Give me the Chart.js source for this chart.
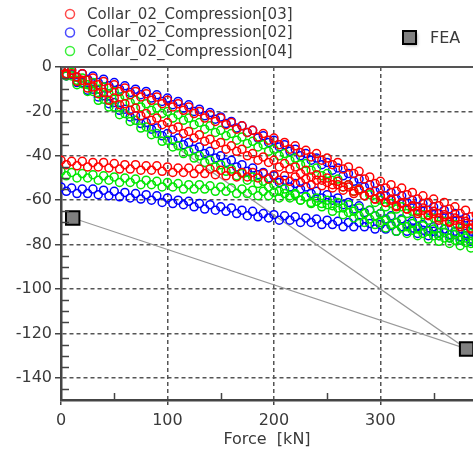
<!DOCTYPE html>
<html>
<head>
<meta charset="utf-8">
<script src="https://cdn.jsdelivr.net/npm/chart.js@4"></script>
<style>
    html, body { margin: 0; padding: 0; background: #fff; overflow: hidden; }
    canvas { display: block; }
</style>
</head>
<body>
<canvas id="myChart" width="473" height="452"></canvas>
<script>
// force grids [kN]: first pass of each curve, and the repeat pass in between
const forces = [0, 10, 20, 30, 40, 50, 60, 70, 80, 90,
    100, 110, 120, 130, 140, 150, 160, 170, 180, 190,
    200, 210, 220, 230, 240, 250, 260, 270, 280, 290,
    300, 310, 320, 330, 340, 350, 360, 370, 380, 390];
const forcesRepeat = [5, 15, 25, 35, 45, 55, 65, 75, 85, 95,
    105, 115, 125, 135, 145, 155, 165, 175, 185, 195,
    205, 215, 225, 235, 245, 255, 265, 275, 285, 295,
    305, 315, 325, 335, 345, 355, 365, 375, 385];

// Collar_02_Compression[03] (red)
const redLoad1 = [0, -1.5, -3, -5, -6.5, -8, -9.5, -11, -12, -13.5,
    -15, -16.5, -18, -20, -21.5, -23, -25, -26.5, -28.5, -30,
    -32, -34, -35.5, -37.5, -39, -41, -43, -45, -47, -49.5,
    -51.5, -53, -54.5, -56.5, -58, -59.5, -61, -63, -64.5, -66.5];
const redLoad1b = [-3, -4.5, -6, -8, -9.5, -11, -12.5, -13.5, -15, -16.5,
    -18, -19.5, -21, -23, -24.5, -26, -28, -29.5, -31.5, -33,
    -35, -37, -38.5, -40.5, -42, -44, -46, -48, -50.5, -52.5,
    -54.5, -56, -57.5, -59.5, -61, -62.5, -64, -66, -67.5];
const redLoad2 = [0, -3, -6, -9, -11.5, -14, -16.5, -18.5, -21, -23,
    -25, -27, -29, -30.5, -32.5, -34, -35.5, -37, -39, -40.5,
    -42, -43.5, -45, -46.5, -48.5, -50, -51.5, -53, -55, -56.5,
    -58.5, -60, -61.5, -63, -64.5, -66, -67.5, -69, -70.5, -72];
const redLoad2b = [-3.5, -6.5, -9.5, -12, -15, -17, -19.5, -22, -24, -26,
    -28, -30, -32, -33.5, -35, -37, -38, -40, -42, -43,
    -45, -46, -48, -49.5, -51, -53, -54, -56, -58, -59.5,
    -61, -63, -64, -66, -67, -69, -70, -72, -73];
const redUnload = [-42, -42.5, -42.5, -43, -43, -43.5, -44, -44, -44.5, -44.5,
    -45, -45.5, -45.5, -46, -46, -46.5, -47, -47.5, -47.5, -48,
    -48.5, -49, -49.5, -50.5, -51, -52, -53, -54, -55.5, -56.5,
    -58, -59.5, -61, -62.5, -63.5, -65, -66.5, -68, -69.5, -71];
const redUnloadb = [-44, -44.5, -45, -45, -45.5, -46, -46, -46.5, -46.5, -47,
    -47.5, -47.5, -48, -48, -48.5, -49, -49.5, -49.5, -50, -50.5,
    -51, -51.5, -52, -53, -53.5, -54.5, -55.5, -57, -58, -59.5,
    -61, -62.5, -64, -65, -66.5, -68, -69.5, -71, -72.5];

// Collar_02_Compression[02] (blue)
const blueLoad1 = [0, -1.5, -3, -4, -5.5, -7, -8.5, -10, -11, -12.5,
    -14, -15.5, -17, -19, -20.5, -22.5, -24.5, -26.5, -28.5, -31,
    -33, -35, -37, -39, -41, -43, -45.5, -48, -50.5, -53,
    -55, -56.5, -58, -60, -61.5, -63, -64.5, -66, -68, -69.5];
const blueLoad1b = [-3, -4.5, -5.5, -7, -8.5, -10, -11.5, -12.5, -14, -15.5,
    -17, -18.5, -20, -22, -23.5, -25.5, -27.5, -29.5, -32, -34,
    -36, -38, -40, -42, -44, -46.5, -49, -51.5, -54, -56,
    -58, -59.5, -61, -63, -64.5, -66, -67.5, -69, -71];
const blueLoad2 = [0, -3.5, -7, -10, -13, -16, -19, -22, -25, -27.5,
    -30, -32, -34, -36, -38, -40, -42, -44, -45.5, -47.5,
    -49, -51, -52.5, -54, -56, -57.5, -59, -61, -62.5, -64.5,
    -66, -67, -68.5, -69.5, -71, -72, -73, -74, -75, -76];
const blueLoad2b = [-4, -7, -10.5, -13.5, -16.5, -19.5, -22.5, -25.5, -28, -31,
    -33, -35, -37, -39, -41, -43, -45, -47, -48.5, -50,
    -52, -54, -55, -57, -59, -60, -62, -64, -65.5, -67,
    -68.5, -70, -71, -72, -73.5, -74.5, -75.5, -76.5, -77.5];
const blueUnload = [-54, -54.5, -55, -55, -55.5, -56, -56.5, -57, -57.5, -58,
    -59, -60, -60.5, -61.5, -62, -63, -63.5, -64.5, -65, -66,
    -66.5, -67, -67.5, -68, -68.5, -69, -69.5, -70, -70, -70.5,
    -71, -71.5, -72, -72.5, -73.5, -74, -74.5, -75.5, -76, -77];
const blueUnloadb = [-56, -57, -57, -57.5, -58, -58.5, -59, -59.5, -60, -61,
    -61.5, -62, -63, -64, -64.5, -65, -66, -67, -67.5, -68,
    -69, -69, -70, -70, -71, -71, -72, -72, -72, -73,
    -73, -74, -74, -75, -76, -76, -77, -78, -78.5];

// Collar_02_Compression[04] (green)
const greenLoad1 = [0, -2.5, -5, -7, -9, -11, -13, -15, -16.5, -18.5,
    -20, -21.5, -23, -25, -26.5, -28.5, -30, -31.5, -33.5, -35,
    -37, -39, -41, -43.5, -45.5, -48, -50.5, -53, -55, -57.5,
    -60, -61.5, -63, -65, -66.5, -68, -69.5, -71, -72.5, -74];
const greenLoad1b = [-3, -6, -8, -10, -12, -14, -16, -18, -19.5, -21,
    -23, -24, -26, -28, -29.5, -31, -33, -34.5, -36, -38,
    -40, -42, -44, -46.5, -49, -51, -54, -56, -58, -61,
    -63, -64, -66, -68, -69, -71, -72, -74, -75];
const greenLoad2 = [0, -4, -7.5, -11, -14.5, -18, -21, -24, -27, -30,
    -33, -35.5, -38, -40, -42, -44, -46, -48, -49.5, -51.5,
    -53, -55, -57, -58.5, -60.5, -62, -63.5, -65.5, -67, -68.5,
    -70, -71, -72.5, -73.5, -75, -76, -77, -78, -79, -80];
const greenLoad2b = [-4, -8, -11, -15, -18, -21.5, -24.5, -27.5, -30.5, -33.5,
    -36, -39, -41, -43, -45, -47, -49, -51, -52.5, -54,
    -56, -58, -60, -61.5, -63, -65, -66.5, -68, -70, -71,
    -72.5, -74, -75, -76, -77.5, -78.5, -79.5, -80.5, -81.5];
const greenUnload = [-47, -47.5, -48, -48.5, -49, -49.5, -50, -50.5, -51, -51.5,
    -52, -52.5, -53, -53, -53.5, -54, -54.5, -55, -55.5, -56,
    -56.5, -57, -57.5, -58.5, -59, -60, -61, -62, -63.5, -64.5,
    -66, -67.5, -69, -70.5, -71.5, -73, -74.5, -75.5, -77, -78];
const greenUnloadb = [-49, -50, -50, -51, -51, -52, -52, -53, -53, -54,
    -54, -55, -55, -55, -56, -56, -57, -57, -58, -58,
    -59, -59, -60, -61, -61.5, -62.5, -63.5, -65, -66, -67,
    -69, -70, -72, -73, -74, -76, -77, -78, -79.5];

// FEA result
const feaForce = [0, 381, 11];
const feaValue = [0, -127, -68];

const xTicks = [0, 100, 200, 300];
const yTicks = [0, -20, -40, -60, -80, -100, -120, -140];

const seriesNames = ["Collar_02_Compression[03]", "Collar_02_Compression[02]", "Collar_02_Compression[04]"];
const seriesColors = ["#ff0000", "#0000ff", "#00e600"];
const legendColors = ["#ff4a4a", "#4a4aff", "#3cf03c"];

const FONT = "'DejaVu Sans', Verdana, sans-serif";
const TEXT = "#3a3a3a";

function curve(xs, ys) {
    return xs.map((f, i) => ({ x: f, y: ys[i] }));
}

function scatterSet(idx, passes) {
    return {
        label: seriesNames[idx],
        data: passes.flatMap(([xs, ys]) => curve(xs, ys)),
        showLine: false,
        pointStyle: "circle",
        pointRadius: 4,
        pointBorderWidth: 1.5,
        pointBorderColor: seriesColors[idx],
        pointBackgroundColor: "transparent",
    };
}

// minor ticks, top frame line and the legend block
const decorPlugin = {
    id: "decor",
    afterDraw(chart) {
        const ctx = chart.ctx;
        const area = chart.chartArea;
        const xs = chart.scales.x;
        const ys = chart.scales.y;

        ctx.save();
        ctx.strokeStyle = "#444";
        ctx.lineWidth = 1.5;
        ctx.beginPath();
        for (let v = -5; v > -150; v -= 5) {
            if (v % 20 === 0) continue;
            const py = Math.round(ys.getPixelForValue(v)) + 0.5;
            ctx.moveTo(area.left, py);
            ctx.lineTo(area.left + 8, py);
        }
        for (let v = 50; v < xs.max; v += 100) {
            const px = Math.round(xs.getPixelForValue(v)) + 0.5;
            ctx.moveTo(px, area.bottom);
            ctx.lineTo(px, area.bottom - 7);
        }
        ctx.stroke();

        // solid frame line at the top
        ctx.lineWidth = 2;
        ctx.strokeStyle = "#555";
        ctx.beginPath();
        ctx.moveTo(area.left, area.top);
        ctx.lineTo(area.right, area.top);
        ctx.stroke();

        // legend
        ctx.font = "15px " + FONT;
        ctx.textBaseline = "middle";
        ctx.textAlign = "left";
        const rows = [14, 32.5, 51];
        seriesNames.forEach((name, i) => {
            ctx.strokeStyle = legendColors[i];
            ctx.lineWidth = 1.5;
            ctx.beginPath();
            ctx.arc(70, rows[i], 4.5, 0, Math.PI * 2);
            ctx.stroke();
            ctx.fillStyle = TEXT;
            ctx.fillText(name, 87, rows[i] + 1);
        });

        ctx.shadowColor = "rgba(0,0,0,0.35)";
        ctx.shadowBlur = 3;
        ctx.shadowOffsetX = 1.5;
        ctx.shadowOffsetY = 1.5;
        ctx.fillStyle = "#808080";
        ctx.fillRect(403, 31, 13, 13);
        ctx.shadowColor = "transparent";
        ctx.lineWidth = 2;
        ctx.strokeStyle = "#000";
        ctx.strokeRect(403, 31, 13, 13);
        ctx.font = "16px " + FONT;
        ctx.fillStyle = TEXT;
        ctx.fillText("FEA", 430, 38.5);
        ctx.restore();
    },
};

const ctx = document.querySelector("#myChart");

new Chart(ctx, {
    type: "scatter",
    data: {
        datasets: [
            scatterSet(0, [[forces, redLoad1], [forcesRepeat, redLoad1b], [forces, redLoad2],
                [forcesRepeat, redLoad2b], [forces, redUnload], [forcesRepeat, redUnloadb]]),
            scatterSet(2, [[forces, greenLoad1], [forcesRepeat, greenLoad1b], [forces, greenLoad2],
                [forcesRepeat, greenLoad2b], [forces, greenUnload], [forcesRepeat, greenUnloadb]]),
            scatterSet(1, [[forces, blueLoad1], [forcesRepeat, blueLoad1b], [forces, blueLoad2],
                [forcesRepeat, blueLoad2b], [forces, blueUnload], [forcesRepeat, blueUnloadb]]),
            {
                label: "FEA",
                data: curve(feaForce, feaValue),
                showLine: true,
                borderColor: "#9a9a9a",
                borderWidth: 1.2,
                pointStyle: "rect",
                pointRadius: [0, 9.5, 9.5],
                pointBorderWidth: 2,
                pointBorderColor: "#000",
                pointBackgroundColor: "#808080",
            },
        ],
    },
    options: {
        responsive: false,
        devicePixelRatio: 1,
        animation: false,
        layout: {
            autoPadding: false,
            padding: { top: 67, right: 0, left: 0, bottom: 0 },
        },
        plugins: {
            legend: { display: false },
            tooltip: { enabled: false },
        },
        scales: {
            x: {
                type: "linear",
                min: 0,
                max: 387,
                afterBuildTicks: (scale) => {
                    scale.ticks = xTicks.map((v) => ({ value: v }));
                },
                afterFit: (scale) => {
                    scale.height = 52;
                    scale.paddingLeft = 0;
                    scale.paddingRight = 0;
                },
                grid: {
                    color: (c) => (c.tick && c.tick.value === 0 ? "transparent" : "#555"),
                    lineWidth: 1.5,
                    tickColor: "#444",
                    tickWidth: 1.5,
                    tickLength: 5,
                },
                border: {
                    color: "#444",
                    width: 2.5,
                    dash: [4, 3],
                },
                ticks: {
                    color: TEXT,
                    padding: 6,
                    maxRotation: 0,
                    font: { family: FONT, size: 16 },
                    callback: (v) => String(v),
                },
                title: {
                    display: true,
                    text: "Force  [kN]",
                    color: TEXT,
                    padding: { top: 0, bottom: 3 },
                    font: { family: FONT, size: 16 },
                },
            },
            y: {
                type: "linear",
                min: -150,
                max: 0,
                afterBuildTicks: (scale) => {
                    scale.ticks = yTicks.map((v) => ({ value: v }));
                },
                afterFit: (scale) => {
                    scale.width = 61;
                },
                grid: {
                    color: (c) => (c.tick && c.tick.value === 0 ? "transparent" : "#555"),
                    lineWidth: 1.5,
                    tickColor: "#444",
                    tickWidth: 1.5,
                    tickLength: 6,
                },
                border: {
                    color: "#444",
                    width: 2.5,
                    dash: [4, 3],
                },
                ticks: {
                    color: TEXT,
                    padding: 3,
                    font: { family: FONT, size: 16 },
                    callback: (v) => String(v),
                },
            },
        },
    },
    plugins: [decorPlugin],
});
</script>
</body>
</html>
